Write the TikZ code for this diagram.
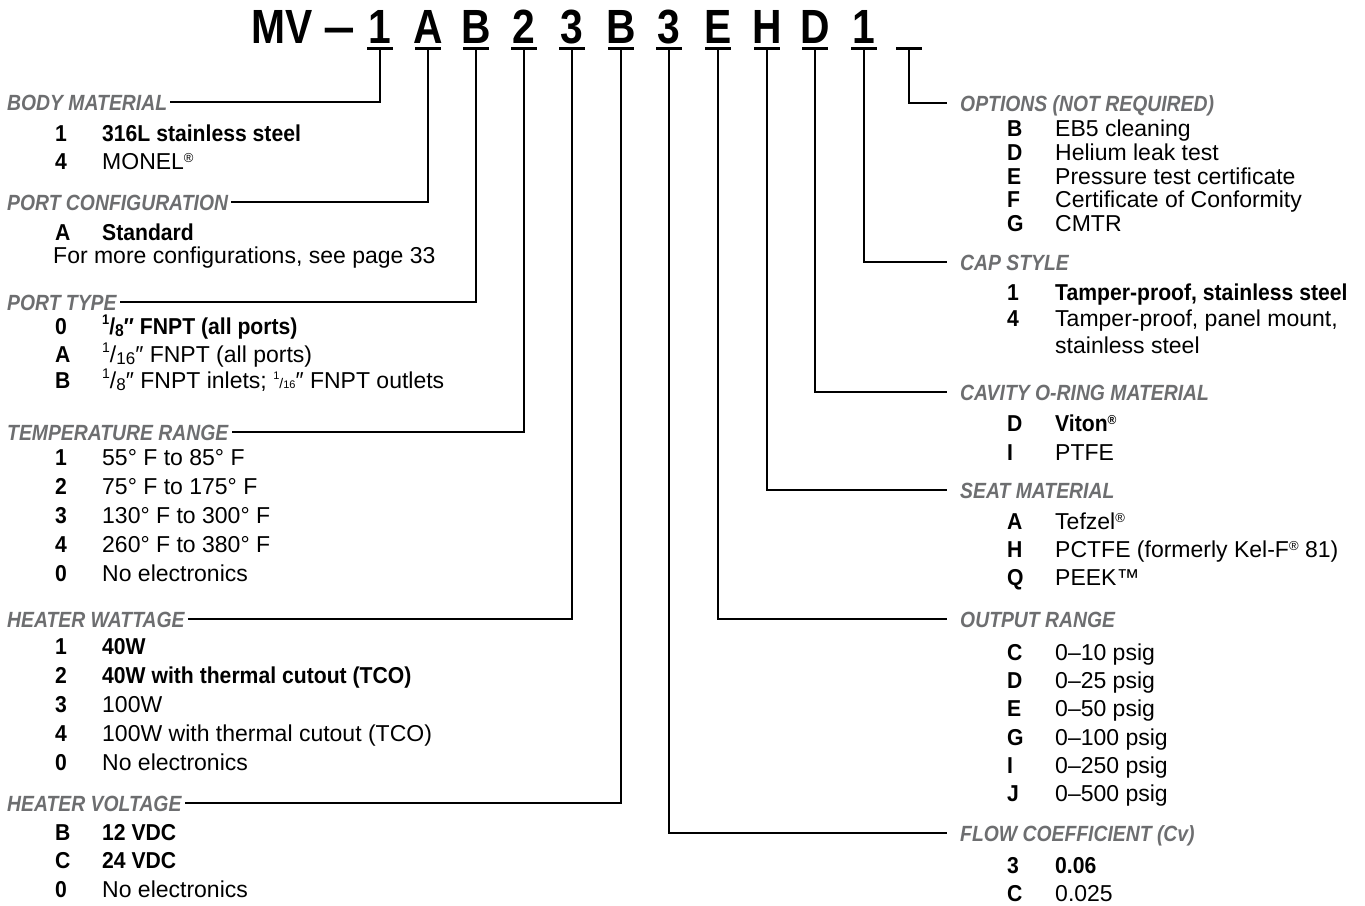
\documentclass[tikz,border=0pt]{standalone}
\usepackage{fontspec}
\setmainfont{Liberation Sans}
\newfontfamily\condfont[FakeStretch=0.92]{Liberation Sans}
\newfontfamily\headfont[FakeStretch=0.88]{Liberation Sans}
\newfontfamily\titlefont[FakeStretch=0.85]{Liberation Sans}
\usetikzlibrary{calc}
\definecolor{headgray}{RGB}{109,110,112}
\newcommand{\reg}{\raisebox{0.3em}{\fontsize{13}{13}\selectfont ®}}
\newcommand{\fracup}[2]{\raisebox{0.42em}{\fontsize{14}{14}\selectfont #1}/\raisebox{-0.12em}{\fontsize{17}{17}\selectfont #2}}
\newcommand{\fracsm}[2]{\raisebox{0.35em}{\fontsize{11}{11}\selectfont #1}{\fontsize{14}{14}\selectfont /}{\fontsize{11}{11}\selectfont #2}}

\tikzset{
  ttl/.style={inner sep=0pt,font=\titlefont\bfseries\fontsize{48}{52}\selectfont},
  hdr/.style={anchor=base west,inner xsep=3pt,inner ysep=0pt,text height=16pt,text depth=0pt,
    font=\headfont\bfseries\itshape\fontsize{22}{26}\selectfont,text=headgray},
  code/.style={anchor=base west,inner sep=0pt,font=\condfont\bfseries\fontsize{23}{28}\selectfont},
  entry/.style={anchor=base west,inner sep=0pt,font=\fontsize{23}{28}\selectfont},
  bentry/.style={anchor=base west,inner sep=0pt,font=\condfont\bfseries\fontsize{23}{28}\selectfont},
  lead/.style={line width=2pt},
  uline/.style={line width=3pt},
}

\begin{document}
\begin{tikzpicture}[x=1pt,y=-1pt]
% ==========================================
\useasboundingbox (0,0) rectangle (1365,905);
%
% part number with its underlines
\node[ttl,anchor=base west] (mv) at (251,43) {MV};
\node[ttl,anchor=base] (dash) at (339,43) {\scalebox{1.4}[1]{–}};
\foreach \xx/\ch [count=\i from 0] in {380/1,428/A,476/B,524/2,572/3,621/B,669/3,718/E,767/H,815/D,864/1}{
  \node[ttl,anchor=base] (c\i) at (\xx,43) {\ch};
  \coordinate (u\i) at (\xx,48);
}
\coordinate (u11) at (909,48);% blank position
\foreach \i in {0,...,11}{
  \draw[uline] ([xshift=-13pt]u\i) -- ([xshift=13pt]u\i);
}
%
% ========== left column ==========
\node[hdr] (hbody) at (4,110) {BODY MATERIAL};
\node[code] (body-c1) at (55,141) {1};
\node[bentry] (body-t1) at (102,141) {316L stainless steel};
\node[code] (body-c2) at (55,169) {4};
\node[entry] (body-t2) at (102,169) {MONEL\reg};
%
\node[hdr] (hport) at (4,210) {PORT CONFIGURATION};
\node[code] (port-c1) at (55,240) {A};
\node[bentry] (port-t1) at (102,240) {Standard};
\node[entry] (port-t2) at (53,263) {For more configurations, see page 33};
%
\node[hdr] (htype) at (4,310) {PORT TYPE};
\node[code] (type-c1) at (55,334) {0};
\node[bentry] (type-t1) at (102,334) {\fracup{1}{8}″ FNPT (all ports)};
\node[code] (type-c2) at (55,362) {A};
\node[entry] (type-t2) at (102,362) {\fracup{1}{16}″ FNPT (all ports)};
\node[code] (type-c3) at (55,388) {B};
\node[entry] (type-t3) at (102,388) {\fracup{1}{8}″ FNPT inlets; \fracsm{1}{16}″ FNPT outlets};
%
\node[hdr] (htemp) at (4,440) {TEMPERATURE RANGE};
\foreach \yy/\cc/\txt [count=\n] in {465/1/55° F to 85° F,494/2/75° F to 175° F,523/3/130° F to 300° F,
    552/4/260° F to 380° F,581/0/No electronics}{
  \node[code] (temp-c\n) at (55,\yy) {\cc};
  \node[entry] (temp-t\n) at (102,\yy) {\txt};
}
%
\node[hdr] (hwatt) at (4,627) {HEATER WATTAGE};
\foreach \yy/\cc/\st/\txt [count=\n] in {654/1/bentry/40W,683/2/bentry/40W with thermal cutout (TCO),
    712/3/entry/100W,741/4/entry/100W with thermal cutout (TCO),770/0/entry/No electronics}{
  \node[code] (watt-c\n) at (55,\yy) {\cc};
  \node[\st] (watt-t\n) at (102,\yy) {\txt};
}
%
\node[hdr] (hvolt) at (4,811) {HEATER VOLTAGE};
\foreach \yy/\cc/\st/\txt [count=\n] in {840/B/bentry/12 VDC,868/C/bentry/24 VDC,897/0/entry/No electronics}{
  \node[code] (volt-c\n) at (55,\yy) {\cc};
  \node[\st] (volt-t\n) at (102,\yy) {\txt};
}
%
% ========== right column ==========
\node[hdr] (hopt) at (957,111) {OPTIONS (NOT REQUIRED)};
\foreach \yy/\cc/\txt [count=\n] in {136/B/EB5 cleaning,160/D/Helium leak test,184/E/Pressure test certificate,
    207/F/Certificate of Conformity,231/G/CMTR}{
  \node[code] (opt-c\n) at (1007,\yy) {\cc};
  \node[entry] (opt-t\n) at (1055,\yy) {\txt};
}
%
\node[hdr] (hcap) at (957,270) {CAP STYLE};
\node[code] (cap-c1) at (1007,300) {1};
\node[bentry] (cap-t1) at (1055,300) {Tamper-proof, stainless steel};
\node[code] (cap-c2) at (1007,326) {4};
\node[entry] (cap-t2) at (1055,326) {Tamper-proof, panel mount,};
\node[entry] (cap-t3) at (1055,353) {stainless steel};
%
\node[hdr] (hring) at (957,400) {CAVITY O-RING MATERIAL};
\node[code] (ring-c1) at (1007,431) {D};
\node[bentry] (ring-t1) at (1055,431) {Viton\reg};
\node[code] (ring-c2) at (1007,460) {I};
\node[entry] (ring-t2) at (1055,460) {PTFE};
%
\node[hdr] (hseat) at (957,498) {SEAT MATERIAL};
\node[code] (seat-c1) at (1007,529) {A};
\node[entry] (seat-t1) at (1055,529) {Tefzel\reg};
\node[code] (seat-c2) at (1007,557) {H};
\node[entry] (seat-t2) at (1055,557) {PCTFE (formerly Kel-F\reg{} 81)};
\node[code] (seat-c3) at (1007,585) {Q};
\node[entry] (seat-t3) at (1055,585) {PEEK™};
%
\node[hdr] (hout) at (957,627) {OUTPUT RANGE};
\foreach \yy/\cc/\txt [count=\n] in {660/C/0–10 psig,688/D/0–25 psig,716/E/0–50 psig,
    745/G/0–100 psig,773/I/0–250 psig,801/J/0–500 psig}{
  \node[code] (out-c\n) at (1007,\yy) {\cc};
  \node[entry] (out-t\n) at (1055,\yy) {\txt};
}
%
\node[hdr] (hflow) at (957,841) {FLOW COEFFICIENT (Cv)};
\node[code] (flow-c1) at (1007,873) {3};
\node[bentry] (flow-t1) at (1055,873) {0.06};
\node[code] (flow-c2) at (1007,901) {C};
\node[entry] (flow-t2) at (1055,901) {0.025};
%
% ========== leaders ==========
\draw[lead] (u0) |- (hbody.east);
\draw[lead] (u1) |- (hport.east);
\draw[lead] (u2) |- (htype.east);
\draw[lead] (u3) |- (htemp.east);
\draw[lead] (u4) |- (hwatt.east);
\draw[lead] (u5) |- (hvolt.east);
\draw[lead] (u6) |- ([xshift=-10pt]hflow.west);
\draw[lead] (u7) |- ([xshift=-10pt]hout.west);
\draw[lead] (u8) |- ([xshift=-10pt]hseat.west);
\draw[lead] (u9) |- ([xshift=-10pt]hring.west);
\draw[lead] (u10) |- ([xshift=-10pt]hcap.west);
\draw[lead] (u11) |- ([xshift=-10pt]hopt.west);
% =============================================
\end{tikzpicture}
\end{document}
